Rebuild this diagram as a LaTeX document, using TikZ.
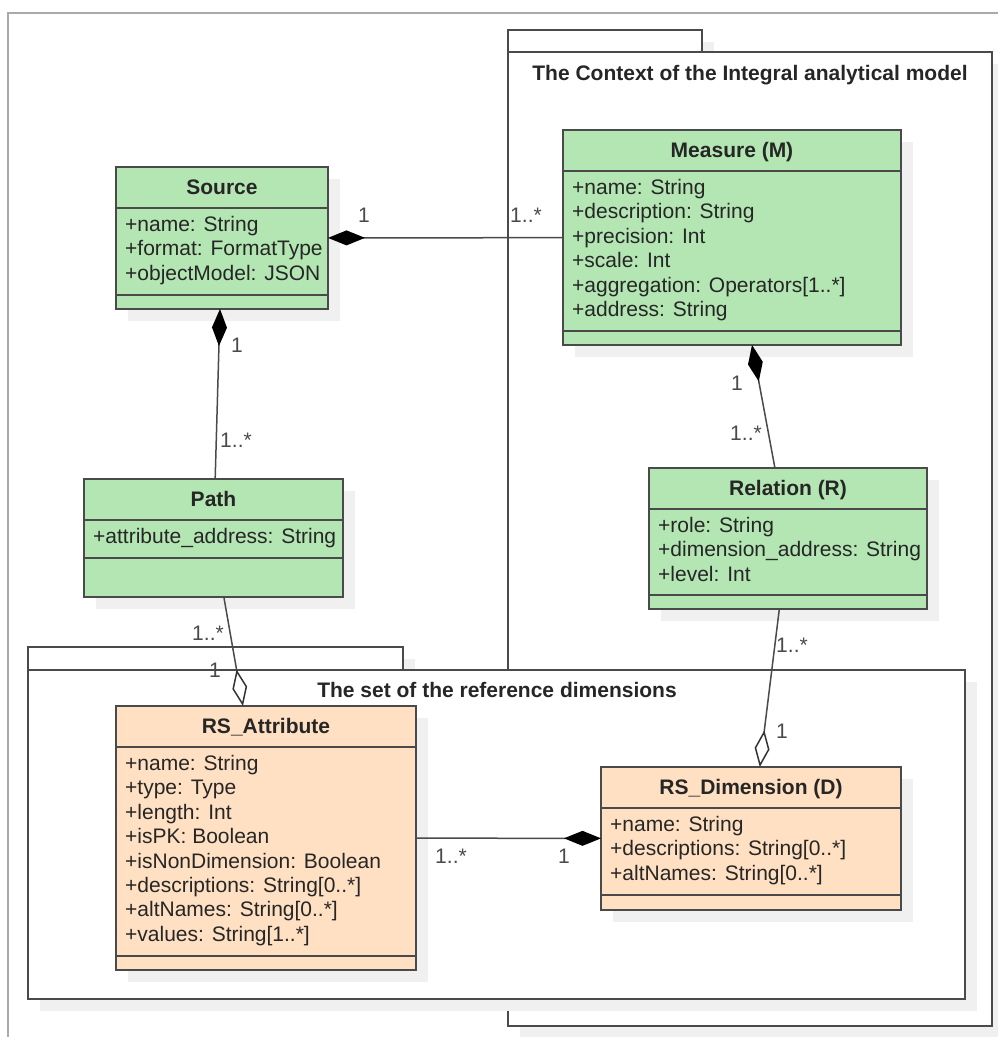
\documentclass[tikz,border=0pt]{standalone}
\usepackage{fontspec}
\setmainfont{Liberation Sans}
\usepackage{tikz}
\usetikzlibrary{arrows.meta}
\definecolor{clsgreen}{HTML}{B3E6B3}
\definecolor{clsorange}{HTML}{FFE0C2}
\definecolor{edge}{HTML}{4A4A4A}
\definecolor{ink}{HTML}{262626}
\definecolor{shadowgray}{HTML}{F0F0F0}
\definecolor{framegray}{HTML}{AAAAAA}

\tikzset{
  clsbox/.style={draw=edge,line width=1.8pt,inner sep=0pt,outer sep=0pt},
  clsrule/.style={draw=edge,line width=1.8pt},
  clstitle/.style={anchor=base,inner sep=0pt,text=ink,font=\fontsize{21}{24}\selectfont\bfseries},
  clsattr/.style={anchor=base west,inner sep=0pt,text=ink,font=\fontsize{21}{24}\selectfont},
  pkgbox/.style={draw=edge,fill=white,line width=1.8pt,inner sep=0pt,outer sep=0pt,anchor=north west},
  pkgtitle/.style={anchor=base,inner sep=0pt,text=ink,font=\fontsize{21}{24}\selectfont\bfseries},
  multlabel/.style={inner sep=0pt,text=edge,font=\fontsize{21}{24}\selectfont},
  composition/.style={draw=edge,line width=1.5pt,{Diamond[length=37pt,width=15pt,black]}-},
  aggregation/.style={draw=edge,line width=1.5pt,-{Diamond[open,length=37pt,width=15pt,black!80]}},
}

% #1 name, #2 fill, #3 left, #4 top, #5 width, #6 height,
% #7 height of the empty last part, #8 title, #9 attributes
\newcommand{\umlclass}[9]{%
  \fill[shadowgray] (#3+12,#4+12) rectangle ++(#5,#6);
  \node[clsbox,fill=#2,minimum width=#5pt,minimum height=#6pt,anchor=north west] (#1) at (#3,#4) {};
  \draw[clsrule] (#3,#4+41) -- ++(#5,0) (#3,#4+#6-#7) -- ++(#5,0);
  \node[clstitle] (#1-title) at (#3+#5/2,#4+27) {#8};
  \foreach \a [count=\i] in {#9}
    \node[clsattr] (#1-\i) at (#3+9,#4+40+24.4*\i) {\a};
}

\begin{document}
\begin{tikzpicture}[x=1pt,y=-1pt]
  \useasboundingbox (0,0) rectangle (998,1037);
  \draw[framegray,line width=1.5pt] (8,1037) -- (8,13) -- (998,13);

  % packages
  \fill[shadowgray] (520,42) rectangle (714,64);
  \fill[shadowgray] (520,64) rectangle (1004,1038);
  \node[pkgbox,minimum width=194pt,minimum height=22pt] (context-tab) at (508,30) {};
  \node[pkgbox,minimum width=484pt,minimum height=974pt] (context) at (508,52) {};
  \node[pkgtitle] (context-title) at (750,80) {The Context of the Integral analytical model};

  \fill[shadowgray] (40,659) rectangle (415,682);
  \fill[shadowgray] (40,682) rectangle (977,1011);
  \node[pkgbox,minimum width=375pt,minimum height=23pt] (refdims-tab) at (28,647) {};
  \node[pkgbox,minimum width=937pt,minimum height=329pt] (refdims) at (28,670) {};
  \node[pkgtitle] (refdims-title) at (497,697) {The set of the reference dimensions};

  % classes
  \umlclass{source}{clsgreen}{116}{167}{212}{142}{14}{Source}
    {{+name: String},{+format: FormatType},{+objectModel: JSON}}
  \umlclass{measure}{clsgreen}{563}{130}{338}{215}{14}{Measure (M)}
    {{+name: String},{+description: String},{+precision: Int},{+scale: Int},
     {+aggregation: Operators[1..*]},{+address: String}}
  \umlclass{path}{clsgreen}{84}{479}{259}{118}{39}{Path}
    {{+attribute\_address: String}}
  \umlclass{relation}{clsgreen}{649}{468}{278}{141}{14}{Relation (R)}
    {{+role: String},{+dimension\_address: String},{+level: Int}}
  \umlclass{rsattr}{clsorange}{116}{706}{300}{264}{14}{RS\_Attribute}
    {{+name: String},{+type: Type},{+length: Int},{+isPK: Boolean},
     {+isNonDimension: Boolean},{+descriptions: String[0..*]},
     {+altNames: String[0..*]},{+values: String[1..*]}}
  \umlclass{rsdim}{clsorange}{601}{767}{300}{143}{15}{RS\_Dimension (D)}
    {{+name: String},{+descriptions: String[0..*]},{+altNames: String[0..*]}}

  % associations
  \draw[composition] (source) -- (measure);
  \draw[composition] (source) -- (path);
  \draw[aggregation] (path) -- (rsattr);
  \draw[composition] (measure) -- (relation);
  \draw[aggregation] (relation) -- (rsdim);
  \draw[composition] (rsdim) -- (rsattr);

  \node[multlabel] (m-sm1) at (364,215) {1};
  \node[multlabel] (m-sm2) at (526,215) {1..*};
  \node[multlabel] (m-sp1) at (237,345) {1};
  \node[multlabel] (m-sp2) at (236,440) {1..*};
  \node[multlabel] (m-pa1) at (208,633) {1..*};
  \node[multlabel] (m-pa2) at (215,670) {1};
  \node[multlabel] (m-mr1) at (737,383) {1};
  \node[multlabel] (m-mr2) at (746,433) {1..*};
  \node[multlabel] (m-rd1) at (792,645) {1..*};
  \node[multlabel] (m-rd2) at (782,731) {1};
  \node[multlabel] (m-ad1) at (451,856) {1..*};
  \node[multlabel] (m-ad2) at (564,856) {1};
\end{tikzpicture}
\end{document}
